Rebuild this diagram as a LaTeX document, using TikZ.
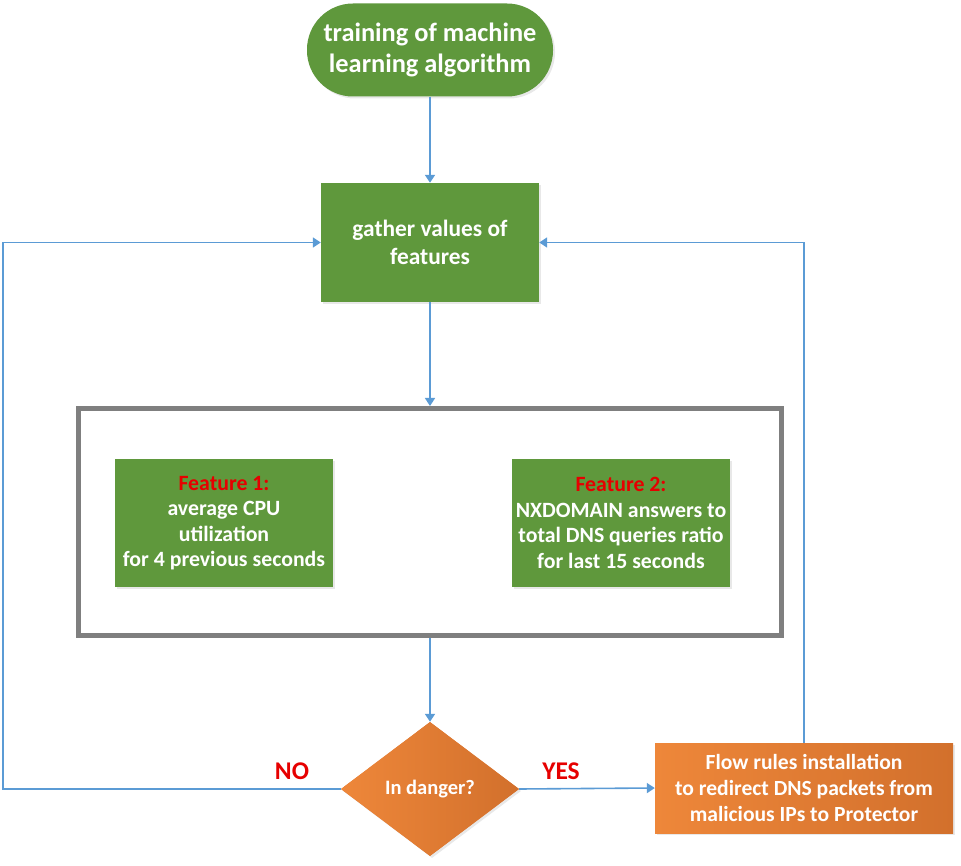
\documentclass[tikz,border=0pt]{standalone}
\usepackage{fontspec}
\setmainfont{Carlito}
\usetikzlibrary{arrows.meta,shapes.geometric,shadows}
\definecolor{fgreen}{RGB}{95,152,60}
\definecolor{forange}{RGB}{224,121,52}
\definecolor{olight}{RGB}{238,135,58}
\definecolor{odark}{RGB}{210,112,44}
\definecolor{lblue}{RGB}{91,155,213}
\definecolor{fgray}{RGB}{127,127,127}
\definecolor{fred}{RGB}{230,0,0}
\tikzset{
  box/.style={fill=fgreen, text=white, align=center, inner sep=0pt, font=\bfseries,
    drop shadow={shadow xshift=2pt, shadow yshift=-2pt, opacity=0.18}},
  obox/.style={box, fill=forange, left color=olight, right color=odark},
  conn/.style={draw=lblue, line width=1.6pt, -{Triangle[width=10pt,length=8pt]}},
  lab/.style={text=fred, font=\bfseries\fontsize{25.5}{30}\selectfont}
}
\begin{document}
\begin{tikzpicture}[x=1pt,y=-1pt]
\useasboundingbox (0,0) rectangle (961,866);
\node[box, rounded corners=46pt, minimum width=246pt, minimum height=93pt,
  font=\bfseries\fontsize{26.4}{31}\selectfont] (train) at (430,50) {training of machine\\learning algorithm};
\node[box, minimum width=218pt, minimum height=119pt,
  font=\bfseries\fontsize{23.4}{28}\selectfont] (gather) at (430,242.5) {gather values of\\features};
\node[draw=fgray, line width=5pt, minimum width=703pt, minimum height=227pt, inner sep=0pt] (frame) at (430,522) {};
\node[box, minimum width=218pt, minimum height=128pt,
  font=\bfseries\fontsize{21.8}{25.5}\selectfont] (f1) at (224,523) {\textcolor{fred}{Feature 1:}\\average CPU\\utilization\\for 4 previous seconds};
\node[box, minimum width=218pt, minimum height=128pt,
  font=\bfseries\fontsize{21.8}{25.5}\selectfont] (f2) at (621,523) {\textcolor{fred}{Feature 2:}\\NXDOMAIN answers to\\total DNS queries ratio\\for last 15 seconds};
\node[obox, diamond, aspect=1.33, minimum width=178pt, minimum height=134pt,
  font=\bfseries\fontsize{20.5}{24}\selectfont] (dia) at (430,789) {In danger?};
\node[obox, minimum width=298pt, minimum height=90pt,
  font=\bfseries\fontsize{21.6}{26}\selectfont] (act) at (804,788) {Flow rules installation\\to redirect DNS packets from\\malicious IPs to Protector};
\coordinate (nl) at (3,789);
\draw[conn] (train) -- (gather);
\draw[conn] (gather) -- (frame.north);
\draw[conn] (frame.south) -- (dia.north);
\draw[conn] (dia.west) -- (nl) |- (gather.west);
\draw[conn] (dia.east) -- (act.west);
\draw[conn] (act.north) |- (gather.east);
\node[lab] (no) at (292,771) {NO};
\node[lab] (yes) at (561,771) {YES};
\end{tikzpicture}
\end{document}
